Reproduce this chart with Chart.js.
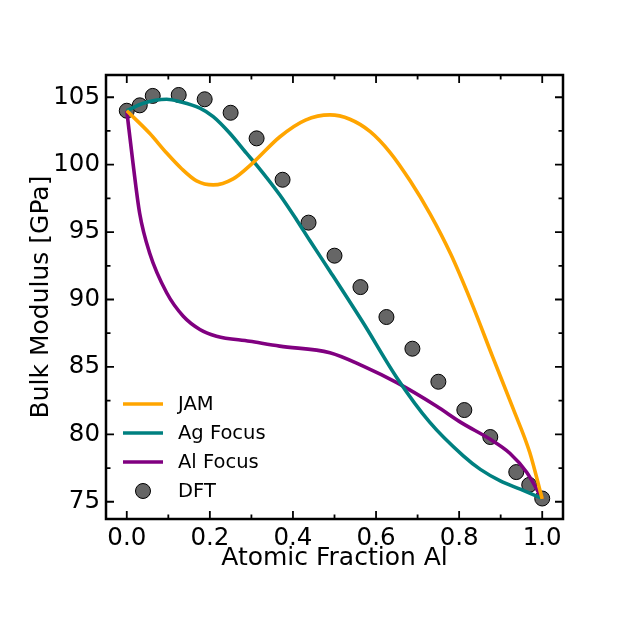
<!DOCTYPE html>
<html>
<head>
<meta charset="utf-8">
<script src="https://cdn.jsdelivr.net/npm/chart.js@4/dist/chart.umd.min.js"></script>
<style>
  body { margin: 0; background: #fff; }
  canvas { display: block; }
</style>
</head>
<body>
<canvas id="bulkChart" width="625" height="625"></canvas>
<script>
// tick labels
var xTicks = [0, 0.2, 0.4, 0.6, 0.8, 1.0];
var yTicks = [75, 80, 85, 90, 95, 100, 105];

// JAM potential
var jamX = [0, 0.055, 0.096, 0.132, 0.168, 0.208, 0.256, 0.304, 0.368, 0.43, 0.489, 0.537, 0.586, 0.634, 0.682, 0.73, 0.78, 0.83, 0.88, 0.93, 0.97, 1.0];
var jamY = [104.0, 102.33, 100.86, 99.7, 98.8, 98.5, 98.95, 100.15, 102.05, 103.3, 103.69, 103.37, 102.45, 100.9, 98.8, 96.35, 93.35, 89.75, 85.8, 81.9, 78.65, 75.2];

// Ag focus potential
var agX = [0, 0.04, 0.096, 0.128, 0.176, 0.208, 0.248, 0.288, 0.312, 0.368, 0.409, 0.441, 0.489, 0.569, 0.65, 0.729, 0.81, 0.851, 0.899, 0.947, 1.0];
var agY = [104.0, 104.56, 104.85, 104.67, 104.19, 103.56, 102.33, 100.85, 99.99, 97.77, 95.9, 94.35, 92.1, 88.27, 84.2, 80.9, 78.4, 77.4, 76.55, 75.93, 75.25];

// Al focus potential
var alX = [0, 0.015, 0.031, 0.055, 0.096, 0.136, 0.176, 0.216, 0.296, 0.368, 0.489, 0.569, 0.65, 0.745, 0.806, 0.875, 0.922, 0.963, 1.0];
var alY = [104.0, 100.1, 96.4, 93.45, 90.5, 88.76, 87.78, 87.28, 86.9, 86.54, 86.05, 85.06, 83.83, 82.1, 80.85, 79.63, 78.6, 77.17, 75.2];

// DFT reference
var dftX = [0, 0.03125, 0.0625, 0.125, 0.1875, 0.25, 0.3125, 0.375, 0.4375, 0.5, 0.5625, 0.625, 0.6875, 0.75, 0.8125, 0.875, 0.9375, 0.96875, 1.0];
var dftY = [104.0, 104.4, 105.1, 105.17, 104.85, 103.85, 101.95, 98.88, 95.7, 93.25, 90.92, 88.7, 86.35, 83.9, 81.8, 79.8, 77.2, 76.25, 75.24];

function pts(xs, ys) {
    return xs.map(function (x, i) { return { x: x, y: ys[i] }; });
}

var FONT = 'DejaVu Sans';

// inward ticks on all four sides + frame
var frameTicks = {
    id: 'frameTicks',
    afterDraw: function (chart) {
        var ctx = chart.ctx, a = chart.chartArea;
        var xs = chart.scales.x, ys = chart.scales.y;
        ctx.save();
        ctx.strokeStyle = '#000';
        ctx.lineWidth = 1.8;
        function xt(v, len) {
            var p = xs.getPixelForValue(v);
            ctx.beginPath();
            ctx.moveTo(p, a.bottom); ctx.lineTo(p, a.bottom - len);
            ctx.moveTo(p, a.top); ctx.lineTo(p, a.top + len);
            ctx.stroke();
        }
        function yt(v, len) {
            var p = ys.getPixelForValue(v);
            ctx.beginPath();
            ctx.moveTo(a.left, p); ctx.lineTo(a.left + len, p);
            ctx.moveTo(a.right, p); ctx.lineTo(a.right - len, p);
            ctx.stroke();
        }
        xTicks.forEach(function (v) { xt(v, 8); });
        for (var i = 0; i < xTicks.length - 1; i++) xt((xTicks[i] + xTicks[i + 1]) / 2, 4.5);
        yTicks.forEach(function (v) { yt(v, 8); });
        for (var j = 0; j < yTicks.length - 1; j++) yt((yTicks[j] + yTicks[j + 1]) / 2, 4.5);
        ctx.lineWidth = 2.5;
        ctx.strokeRect(a.left, a.top, a.right - a.left, a.bottom - a.top);
        ctx.restore();
    }
};

// legend in lower-left corner of the plot
var cornerLegend = {
    id: 'cornerLegend',
    afterDraw: function (chart) {
        var ctx = chart.ctx;
        var x0 = 123, y0 = 404, gap = 29;
        ctx.save();
        ctx.font = '19.5px "' + FONT + '"';
        ctx.textBaseline = 'middle';
        chart.data.datasets.forEach(function (ds, i) {
            var y = y0 + i * gap;
            if (ds.showLine === false) {
                ctx.beginPath();
                ctx.arc(x0 + 20, y, 7.5, 0, Math.PI * 2);
                ctx.fillStyle = ds.backgroundColor;
                ctx.fill();
                ctx.lineWidth = 1;
                ctx.strokeStyle = ds.borderColor;
                ctx.stroke();
            } else {
                ctx.beginPath();
                ctx.moveTo(x0, y); ctx.lineTo(x0 + 40, y);
                ctx.lineWidth = 3.5;
                ctx.strokeStyle = ds.borderColor;
                ctx.stroke();
            }
            ctx.fillStyle = '#000';
            ctx.fillText(ds.label, 178, y + 1);
        });
        ctx.restore();
    }
};

function curve(label, xs, ys, color) {
    return {
        label: label,
        data: pts(xs, ys),
        borderColor: color,
        borderWidth: 3.6,
        pointRadius: 0,
        cubicInterpolationMode: 'monotone',
        fill: false,
        order: 0
    };
}

document.addEventListener('DOMContentLoaded', function () {
    var ctx = document.getElementById('bulkChart').getContext('2d');
    new Chart(ctx, {
        type: 'line',
        data: {
            datasets: [
                curve('JAM', jamX, jamY, '#FFA500'),
                curve('Ag Focus', agX, agY, '#008080'),
                curve('Al Focus', alX, alY, '#800080'),
                {
                    label: 'DFT',
                    data: pts(dftX, dftY),
                    showLine: false,
                    backgroundColor: '#666666',
                    borderColor: '#000000',
                    borderWidth: 1,
                    pointRadius: 7.5,
                    order: 1
                }
            ]
        },
        options: {
            responsive: false,
            animation: false,
            layout: { padding: { left: 0, top: 75, right: 62, bottom: 0 } },
            scales: {
                x: {
                    type: 'linear',
                    min: -0.05,
                    max: 1.05,
                    afterBuildTicks: function (s) { s.ticks = xTicks.map(function (v) { return { value: v }; }); },
                    afterFit: function (s) { s.height = 106; },
                    grid: { display: false, drawTicks: false },
                    border: { display: false },
                    ticks: {
                        padding: 5,
                        color: '#000',
                        font: { family: FONT, size: 24.5 },
                        maxRotation: 0,
                        callback: function (v) { return v.toFixed(1); }
                    },
                    title: {
                        display: true,
                        text: 'Atomic Fraction Al',
                        color: '#000',
                        font: { family: FONT, size: 25 },
                        padding: { top: 0, bottom: 52 }
                    }
                },
                y: {
                    type: 'linear',
                    min: 73.72,
                    max: 106.65,
                    afterBuildTicks: function (s) { s.ticks = yTicks.map(function (v) { return { value: v }; }); },
                    afterFit: function (s) { s.width = 106; },
                    grid: { display: false, drawTicks: false },
                    border: { display: false },
                    ticks: {
                        padding: 6,
                        color: '#000',
                        font: { family: FONT, size: 24.5 },
                        callback: function (v) { return String(v); }
                    },
                    title: {
                        display: true,
                        text: 'Bulk Modulus [GPa]',
                        color: '#000',
                        font: { family: FONT, size: 25 },
                        padding: { top: 26, bottom: 0 }
                    }
                }
            },
            plugins: {
                legend: { display: false },
                tooltip: { enabled: false }
            }
        },
        plugins: [frameTicks, cornerLegend]
    });
});
</script>
</body>
</html>
